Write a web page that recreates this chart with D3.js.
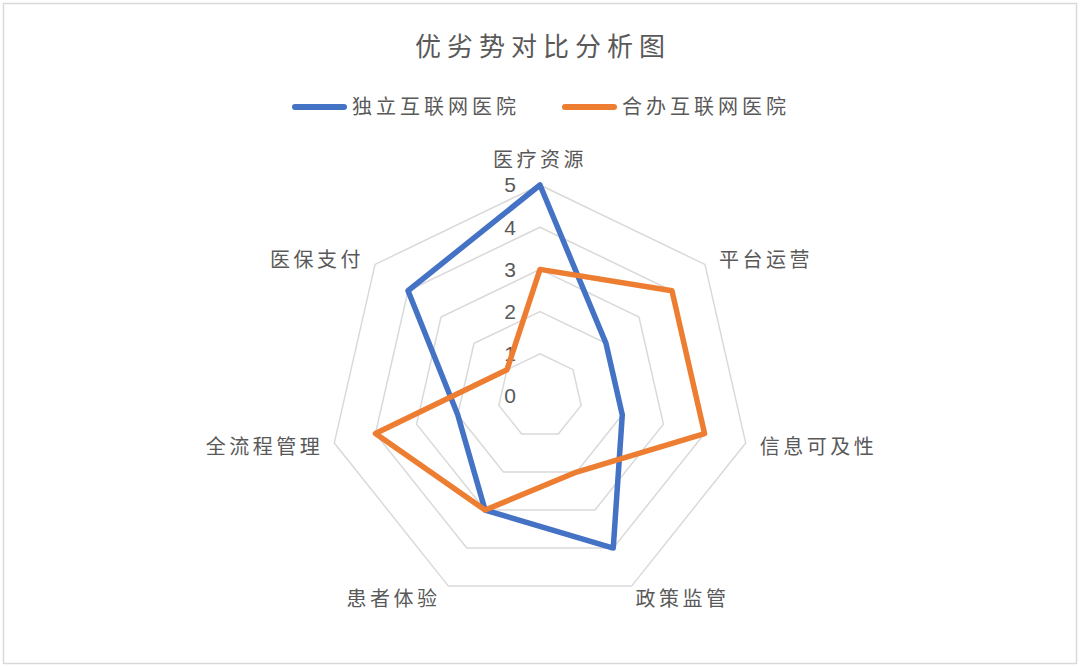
<!DOCTYPE html>
<html>
<head>
<meta charset="utf-8">
<script src="https://cdn.jsdelivr.net/npm/d3@7"></script>
<style>
  body { margin: 0; background: #fff; }
  text { font-family: "Noto Sans CJK SC", "Noto Sans", sans-serif; fill: #595959; }
</style>
</head>
<body>
<div id="chart-area"></div>
<script>
var width = 1080,
    height = 667;

// chart data
var categories = ["医疗资源", "平台运营", "信息可及性", "政策监管", "患者体验", "全流程管理", "医保支付"];
var seriesNames = ["独立互联网医院", "合办互联网医院"];
var independent = [5, 2, 2, 4, 3, 2, 4];
var joint = [3, 4, 4, 2, 3, 4, 1];
var ticks = [0, 1, 2, 3, 4, 5];

var colors = ["#4472C4", "#ED7D31"];
var cx = 540, cy = 396, radius = 211;

var svg = d3.select("#chart-area").append("svg")
    .attr("width", width)
    .attr("height", height);

// outer frame
svg.append("rect")
    .attr("x", 3.5).attr("y", 3.5)
    .attr("width", width - 7).attr("height", height - 7)
    .attr("fill", "#fff")
    .attr("stroke", "#d9d9d9")
    .attr("stroke-width", 1.5);

var r = d3.scaleLinear().domain([0, 5]).range([0, radius]);
var angle = d3.scaleLinear().domain([0, categories.length]).range([0, 2 * Math.PI]);

var g = svg.append("g").attr("transform", "translate(" + cx + "," + cy + ")");

// grid rings
var ring = d3.lineRadial()
    .angle(function(d, i){ return angle(i); })
    .radius(function(d){ return r(d); })
    .curve(d3.curveLinearClosed);

g.selectAll(".grid")
    .data(ticks.slice(1))
    .enter()
    .append("path")
    .attr("class", "grid")
    .attr("d", function(t){ return ring(categories.map(function(){ return t; })); })
    .attr("fill", "none")
    .attr("stroke", "#d9d9d9")
    .attr("stroke-width", 1.5);

// tick labels
g.selectAll(".tick-label")
    .data(ticks)
    .enter()
    .append("text")
    .attr("class", "tick-label")
    .attr("x", -24)
    .attr("y", function(t){ return -r(t); })
    .attr("dy", "0.35em")
    .attr("text-anchor", "end")
    .style("font-family", "'Liberation Sans', Arial, sans-serif")
    .style("font-size", "21px")
    .text(function(t){ return t; });

// series lines
var line = d3.lineRadial()
    .angle(function(d, i){ return angle(i); })
    .radius(function(d){ return r(d); })
    .curve(d3.curveLinearClosed);

g.selectAll(".series")
    .data([independent, joint])
    .enter()
    .append("path")
    .attr("class", "series")
    .attr("d", line)
    .attr("fill", "none")
    .attr("stroke", function(d, i){ return colors[i]; })
    .attr("stroke-width", 5.5)
    .attr("stroke-linejoin", "round");

// category labels
g.selectAll(".cat")
    .data(categories)
    .enter()
    .append("text")
    .attr("class", "cat")
    .attr("x", function(d, i){
        var a = angle(i), s = Math.sin(a);
        var x = r(5) * s;
        if (Math.abs(s) < 0.01) return x;
        if (Math.abs(s) < 0.5) return x + (s > 0 ? 4 : -8);
        return x + (s > 0 ? 14 : -11);
    })
    .attr("y", function(d, i){
        var a = angle(i), c = -Math.cos(a);
        var y = r(5) * c;
        if (c < -0.99) return y - 25;
        if (c > 0.8) return y + 13;
        return y + (c < 0 ? -4 : 4);
    })
    .attr("dy", "0.35em")
    .attr("text-anchor", function(d, i){
        var s = Math.sin(angle(i));
        if (Math.abs(s) < 0.01) return "middle";
        return s > 0 ? "start" : "end";
    })
    .style("font-size", "20px")
    .style("letter-spacing", "3.5px")
    .text(function(d){ return d; });

// title
svg.append("text")
    .attr("x", width / 2 + 3)
    .attr("y", 47)
    .attr("dy", "0.35em")
    .attr("text-anchor", "middle")
    .style("font-size", "26px")
    .style("letter-spacing", "6px")
    .text("优劣势对比分析图");

// legend
var legendX = [292, 562];
var legend = svg.selectAll(".legend")
    .data(seriesNames)
    .enter()
    .append("g")
    .attr("class", "legend")
    .attr("transform", function(d, i){ return "translate(" + legendX[i] + ",107)"; });

legend.append("line")
    .attr("x1", 3).attr("x2", 52)
    .attr("stroke", function(d, i){ return colors[i]; })
    .attr("stroke-width", 6)
    .attr("stroke-linecap", "round");

legend.append("text")
    .attr("x", 60)
    .attr("dy", "0.35em")
    .style("font-size", "20px")
    .style("letter-spacing", "4px")
    .text(function(d){ return d; });
</script>
</body>
</html>
